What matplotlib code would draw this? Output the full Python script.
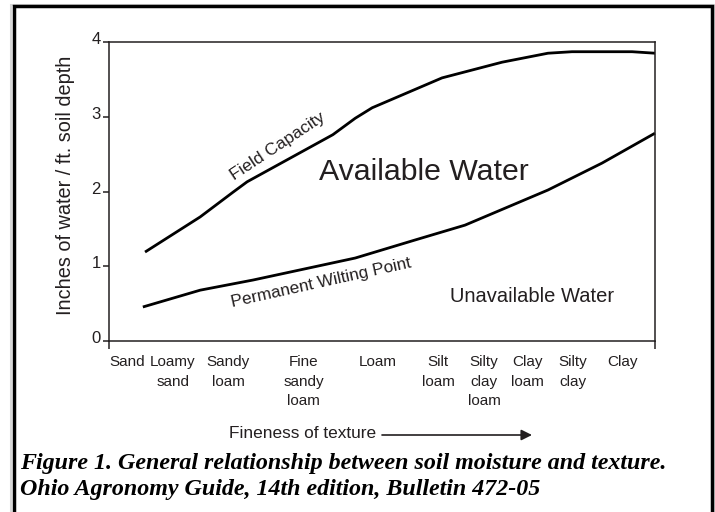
import matplotlib
matplotlib.use('Agg')
import matplotlib.pyplot as plt
import matplotlib.patches as mpatches
from matplotlib.transforms import ScaledTranslation

# soil texture classes along the x axis (0 = coarse, 100 = fine)
texture_labels = ['Sand', 'Loamy\nsand', 'Sandy\nloam', 'Fine\nsandy\nloam', 'Loam',
                  'Silt\nloam', 'Silty\nclay\nloam', 'Clay\nloam', 'Silty\nclay', 'Clay']
texture_pos = [3.3, 11.7, 21.8, 35.7, 49.3, 60.3, 68.7, 76.7, 85.0, 94.0]

# field capacity curve (inches of water / ft.)
fc_x = [6.6, 16.7, 22.7, 25.3, 41.0, 45.1, 48.2, 61.0, 72.0, 80.4, 84.8, 95.8, 100]
fc_y = [1.19, 1.66, 1.99, 2.13, 2.76, 2.98, 3.12, 3.52, 3.73, 3.85, 3.87, 3.87, 3.85]

# permanent wilting point curve
pwp_x = [6.2, 16.7, 26.4, 45.1, 56.0, 65.2, 80.4, 90.3, 100]
pwp_y = [0.455, 0.68, 0.816, 1.11, 1.35, 1.55, 2.02, 2.38, 2.78]

y_ticks = [0, 1, 2, 3, 4]

ink = '#231f20'
plt.rcParams['font.family'] = ['Liberation Sans', 'DejaVu Sans']

fig = plt.figure(figsize=(7.15, 5.12), dpi=100)
ax = fig.add_axes([109 / 715, 1 - 341 / 512, 546 / 715, 299 / 512])

ax.plot(fc_x, fc_y, color='black', linewidth=2.0, solid_capstyle='butt', clip_on=False)
ax.plot(pwp_x, pwp_y, color='black', linewidth=2.0, solid_capstyle='butt', clip_on=False)

ax.set_xlim(0, 100)
ax.set_ylim(0, 4)

for side in ['left', 'right', 'top', 'bottom']:
    ax.spines[side].set_linewidth(1.1)
    ax.spines[side].set_color(ink)

# y axis
ax.set_yticks(y_ticks)
ax.set_yticklabels([str(t) for t in y_ticks])
ax.tick_params(axis='y', direction='out', length=4.5, width=1.1, color=ink,
               pad=1.5, labelsize=12, labelcolor=ink)
for lbl in ax.get_yticklabels():
    lbl.set_transform(lbl.get_transform() + ScaledTranslation(0, 4 / 100, fig.dpi_scale_trans))
ax.set_ylabel('Inches of water / ft. soil depth', fontsize=14.3, color=ink, va='center')
ax.yaxis.set_label_coords(-0.0788, 0.52)

# x axis: end ticks only, class names as minor tick labels
ax.set_xticks([0, 100])
ax.set_xticklabels(['', ''])
ax.tick_params(axis='x', which='major', direction='out', length=6, width=1.1, color=ink)
ax.set_xticks(texture_pos, minor=True)
ax.set_xticklabels(texture_labels, minor=True)
ax.tick_params(axis='x', which='minor', length=0, pad=10, labelsize=11, labelcolor=ink)
for lbl in ax.get_xticklabels(minor=True):
    lbl.set_linespacing(1.52)

# curve and region labels
ax.text(31.0, 2.61, 'Field Capacity', rotation=33.5, rotation_mode='anchor',
        ha='center', va='center', fontsize=12.5, color=ink)
ax.text(38.8, 0.776, 'Permanent Wilting Point', rotation=12.5, rotation_mode='anchor',
        ha='center', va='center', fontsize=12.3, color=ink)
ax.text(57.7, 2.15, 'Available Water', ha='center', va='baseline', fontsize=21.8, color=ink)
ax.text(77.5, 0.52, 'Unavailable Water', ha='center', va='baseline', fontsize=14.5, color=ink)

# fineness of texture arrow
fig.text(229 / 715, 1 - 434 / 512, 'Fineness of texture', ha='left', va='center',
         fontsize=12.4, color=ink)
ax.annotate('', xy=(532 / 715, 1 - 435 / 512), xytext=(382 / 715, 1 - 435 / 512),
            xycoords='figure fraction', textcoords='figure fraction',
            arrowprops=dict(arrowstyle='-|>', color=ink, lw=1.2, mutation_scale=16,
                            shrinkA=0, shrinkB=0))

# caption
fig.text(20 / 715, 1 - 463 / 512,
         'Figure 1. General relationship between soil moisture and texture.',
         ha='left', va='center', fontsize=17.3, family='Liberation Serif',
         weight='bold', style='italic', color='black')
fig.text(20 / 715, 1 - 489 / 512,
         'Ohio Agronomy Guide, 14th edition, Bulletin 472-05',
         ha='left', va='center', fontsize=17.3, family='Liberation Serif',
         weight='bold', style='italic', color='black')

# outer frame
fig.patches.append(mpatches.Rectangle((10.5 / 715, -0.05), 703 / 715, 1.05 - 5 / 512,
                                      transform=fig.transFigure, fill=False,
                                      edgecolor='#d8d8d8', linewidth=1.5))
fig.patches.append(mpatches.Rectangle((13.5 / 715, -0.05), 698 / 715, 1.05 - 6 / 512,
                                      transform=fig.transFigure, fill=False,
                                      edgecolor='black', linewidth=2.5))

fig.savefig('out.png', dpi=100)
